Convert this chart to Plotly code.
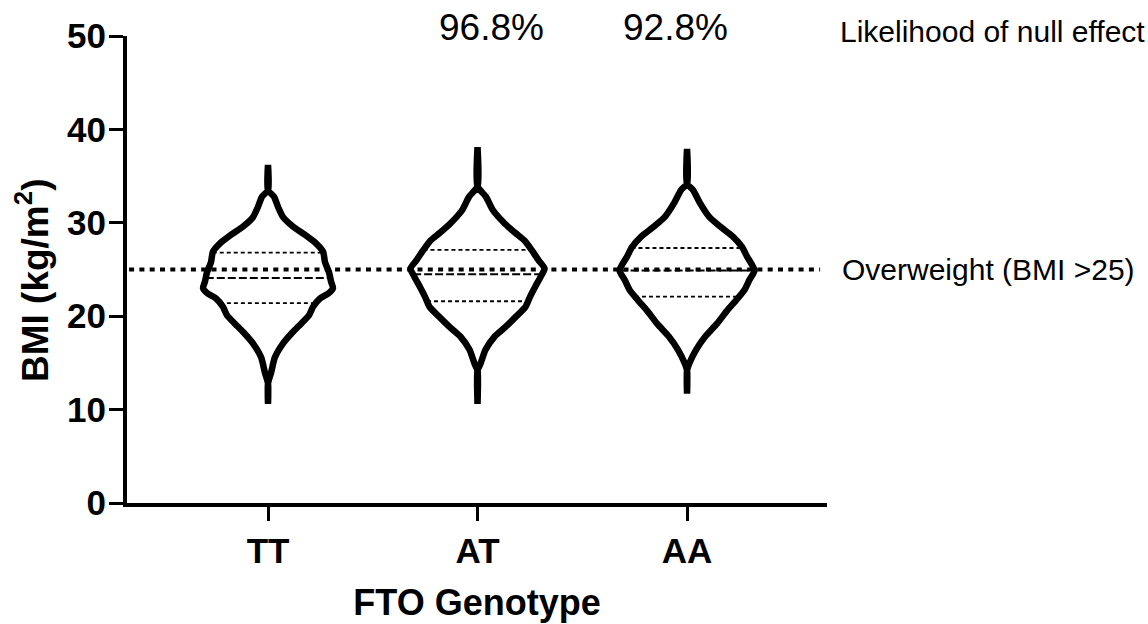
import numpy as np
import plotly.graph_objects as go

genotypes = ["TT", "AT", "AA"]

# Violin outlines: BMI levels (top to bottom) and density half-widths (x-axis units)
tt_bmi = [36.2, 33.5, 32.8, 31.7, 30.6, 29.6, 28.7, 27.8, 26.9, 25.8, 24.7, 23.7,
          23.0, 22.4, 21.9, 21.0, 20.1, 19.2, 18.1, 17.1, 15.6, 13.9, 12.8, 10.6]
tt_hw = [0, 0, 0.029, 0.048, 0.072, 0.119, 0.177, 0.229, 0.263, 0.272, 0.291, 0.301,
         0.310, 0.286, 0.248, 0.215, 0.196, 0.158, 0.110, 0.072, 0.033, 0.014, 0, 0]

at_bmi = [38.1, 33.9, 32.8, 31.4, 29.9, 28.9, 28.1, 27.1, 26.0, 25.1, 24.2, 23.1,
          22.1, 21.0, 19.9, 18.8, 17.8, 16.4, 14.9, 14.2, 10.6]
at_hw = [0, 0, 0.040, 0.072, 0.131, 0.181, 0.224, 0.258, 0.291, 0.320, 0.301, 0.274,
         0.251, 0.229, 0.181, 0.131, 0.081, 0.038, 0.014, 0, 0]

aa_bmi = [37.9, 34.2, 33.5, 32.1, 30.6, 29.6, 28.5, 27.4, 26.4, 24.9, 23.9, 22.8,
          21.7, 20.6, 19.2, 17.8, 16.4, 14.9, 14.2, 11.7]
aa_hw = [0, 0, 0.029, 0.062, 0.107, 0.158, 0.220, 0.263, 0.286, 0.322, 0.298, 0.274,
         0.234, 0.191, 0.143, 0.086, 0.043, 0.010, 0, 0]

# Quartiles per genotype
q1 = [21.4, 21.6, 22.1]
median = [24.1, 24.5, 24.9]
q3 = [26.8, 27.1, 27.3]

# Likelihood of a null effect vs. TT
null_likelihood = ["", "96.8%", "92.8%"]

overweight_bmi = 25

outlines = [(tt_bmi, tt_hw), (at_bmi, at_hw), (aa_bmi, aa_hw)]

FONT = "Arial, 'Liberation Sans', sans-serif"
X_RANGE = [-0.673, 2.668]

fig = go.Figure()

for i, (bmi, hw) in enumerate(outlines):
    bmi = np.asarray(bmi, float)
    hw = np.asarray(hw, float)
    xs = np.concatenate([i - hw, (i + hw)[::-1]])
    ys = np.concatenate([bmi, bmi[::-1]])
    fig.add_trace(go.Scatter(
        x=xs, y=ys, mode="lines",
        line=dict(color="black", width=6.5, shape="spline", smoothing=0.6),
        hoverinfo="skip",
    ))
    # quartile and median lines spanning the violin width
    order = np.argsort(bmi)
    for val, dash, w in [(q1[i], "4px,3px", 1.8), (q3[i], "4px,3px", 1.8),
                         (median[i], "8px,3px", 2)]:
        half = np.interp(val, bmi[order], hw[order])
        fig.add_trace(go.Scatter(
            x=[i - half, i + half], y=[val, val], mode="lines",
            line=dict(color="black", width=w, dash=dash),
            hoverinfo="skip",
        ))

# Overweight threshold
fig.add_trace(go.Scatter(
    x=[X_RANGE[0] + 0.01, 2.635], y=[overweight_bmi, overweight_bmi], mode="lines",
    line=dict(color="black", width=4, dash="5px,5.3px"),
    hoverinfo="skip", cliponaxis=False,
))

annotations = [
    dict(x=1.0186, y=overweight_bmi, xref="paper", yref="y", text="Overweight (BMI >25)",
         showarrow=False, xanchor="left", yanchor="middle",
         font=dict(size=30, family=FONT, color="black")),
    dict(x=1.0157, y=1.0094, xref="paper", yref="paper", text="Likelihood of null effect",
         showarrow=False, xanchor="left", yanchor="middle",
         font=dict(size=30, family=FONT, color="black")),
    dict(x=-0.1357, y=0.4775, xref="paper", yref="paper", text="BMI (kg/m<sup>2</sup>)",
         textangle=-90, showarrow=False, xanchor="center", yanchor="middle",
         font=dict(size=37, family=FONT, color="black", weight="bold")),
]
shifts = [0, 14, -12]
for i, txt in enumerate(null_likelihood):
    if txt:
        annotations.append(dict(
            x=i, y=1.019, xref="x", yref="paper", text=txt, xshift=shifts[i],
            showarrow=False, xanchor="center", yanchor="middle",
            font=dict(size=37, family=FONT, color="black")))

fig.update_layout(
    width=1148, height=624,
    margin=dict(l=127, r=321, t=36, b=121, autoexpand=False),
    plot_bgcolor="white", paper_bgcolor="white",
    showlegend=False,
    font=dict(family=FONT, color="black"),
    annotations=annotations,
    xaxis=dict(
        range=X_RANGE, tickvals=[0, 1, 2], ticktext=genotypes,
        showline=True, linewidth=4, linecolor="black",
        ticks="outside", ticklen=14, tickwidth=3, tickcolor="black",
        tickfont=dict(size=35, family=FONT, color="black", weight="bold"),
        showgrid=False, zeroline=False, fixedrange=True,
        title=dict(text="FTO Genotype", standoff=22,
                   font=dict(size=36, family=FONT, color="black", weight="bold")),
    ),
    yaxis=dict(
        range=[0, 50], tickvals=[0, 10, 20, 30, 40, 50],
        showline=True, linewidth=4, linecolor="black",
        ticks="outside", ticklen=14, tickwidth=3, tickcolor="black",
        ticklabelstandoff=-4,
        tickfont=dict(size=35, family=FONT, color="black", weight="bold"),
        showgrid=False, zeroline=False, fixedrange=True,
    ),
)

fig.write_html("out.html")
